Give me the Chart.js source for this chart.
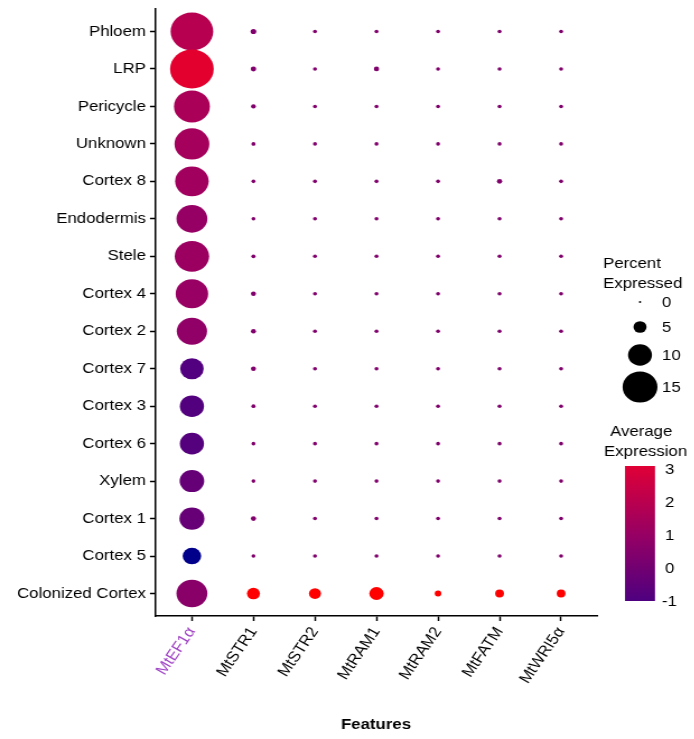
<!DOCTYPE html>
<html>
<head>
<meta charset="utf-8">
<script src="https://cdn.jsdelivr.net/npm/chart.js@4/dist/chart.umd.min.js"></script>
<style>
  html, body { margin: 0; padding: 0; background: #fff; overflow: hidden; }
  /* the source figure is stretched sideways, so draw narrow and widen */
  #wrap { width: 620px; height: 739px; transform: scaleX(1.12); transform-origin: 0 0; }
</style>
</head>
<body>
<div id="wrap"><canvas id="dotplot" width="620" height="739"></canvas></div>
<script>
const SX = 1.12;
const FONT = "'Liberation Sans', Arial, Helvetica, sans-serif";

const genes = ["MtEF1α", "MtSTR1", "MtSTR2", "MtRAM1", "MtRAM2", "MtFATM", "MtWRI5α"];
const cellTypes = ["Phloem", "LRP", "Pericycle", "Unknown", "Cortex 8", "Endodermis", "Stele", "Cortex 4",
  "Cortex 2", "Cortex 7", "Cortex 3", "Cortex 6", "Xylem", "Cortex 1", "Cortex 5", "Colonized Cortex"];

// percent of cells expressing, one value per cell type (top to bottom)
const pctEF1a = [18.6, 19.1, 15.5, 15.0, 14.4, 13.2, 14.8, 13.9, 12.9, 9.8, 10.1, 10.1, 10.3, 10.5, 7.5, 13.2];
const pctSTR1 = [1.6, 1.5, 1.2, 0.9, 0.8, 0.8, 0.9, 1.3, 1.3, 1.3, 0.9, 0.8, 0.8, 1.4, 0.8, 5.0];
const pctSTR2 = [0.8, 0.8, 0.8, 0.8, 0.8, 0.8, 0.8, 0.8, 0.8, 0.8, 0.8, 0.8, 0.8, 0.8, 0.8, 4.5];
const pctRAM1 = [0.8, 1.4, 0.8, 0.8, 0.8, 0.8, 0.8, 0.8, 0.8, 0.8, 0.8, 0.8, 0.8, 0.8, 0.8, 5.6];
const pctRAM2 = [0.8, 0.8, 0.8, 0.8, 0.8, 0.8, 0.8, 0.8, 0.8, 0.8, 0.8, 0.8, 0.8, 0.8, 0.8, 2.0];
const pctFATM = [0.8, 0.8, 0.8, 0.8, 1.4, 0.8, 0.8, 0.8, 0.8, 0.8, 0.8, 0.8, 0.8, 0.8, 0.8, 3.0];
const pctWRI5a = [0.8, 0.8, 0.8, 0.8, 0.8, 0.8, 0.8, 0.8, 0.8, 0.8, 0.8, 0.8, 0.8, 0.8, 0.8, 3.0];

// scaled average expression
const avgEF1a = [1.95, 3.2, 1.57, 1.43, 1.3, 1.0, 1.15, 1.05, 0.86, -0.9, -0.85, -0.8, -0.35, -0.3, -2.0, 0.65];
const avgSTR1 = [0.4, 0.4, 0.4, 0.4, 0.4, 0.4, 0.4, 0.4, 0.4, 0.4, 0.4, 0.4, 0.4, 0.4, 0.4, 4.0];
const avgSTR2 = [0.4, 0.4, 0.4, 0.4, 0.4, 0.4, 0.4, 0.4, 0.4, 0.4, 0.4, 0.4, 0.4, 0.4, 0.4, 4.0];
const avgRAM1 = [0.4, 0.4, 0.4, 0.4, 0.4, 0.4, 0.4, 0.4, 0.4, 0.4, 0.4, 0.4, 0.4, 0.4, 0.4, 4.0];
const avgRAM2 = [0.4, 0.4, 0.4, 0.4, 0.4, 0.4, 0.4, 0.4, 0.4, 0.4, 0.4, 0.4, 0.4, 0.4, 0.4, 4.0];
const avgFATM = [0.4, 0.4, 0.4, 0.4, 0.4, 0.4, 0.4, 0.4, 0.4, 0.4, 0.4, 0.4, 0.4, 0.4, 0.4, 4.0];
const avgWRI5a = [0.4, 0.4, 0.4, 0.4, 0.4, 0.4, 0.4, 0.4, 0.4, 0.4, 0.4, 0.4, 0.4, 0.4, 0.4, 4.0];

const sizeLegend = [0, 5, 10, 15];
const colourTicks = [3, 2, 1, 0, -1];

const pctByGene = [pctEF1a, pctSTR1, pctSTR2, pctRAM1, pctRAM2, pctFATM, pctWRI5a];
const avgByGene = [avgEF1a, avgSTR1, avgSTR2, avgRAM1, avgRAM2, avgFATM, avgWRI5a];

const colourStops = [
  [-2, [0, 0, 139]],
  [-1, [78, 0, 128]],
  [1, [150, 0, 100]],
  [3, [220, 0, 58]],
  [4, [255, 0, 0]],
];

function colourFor(v) {
  if (v <= colourStops[0][0]) return `rgb(${colourStops[0][1].join(",")})`;
  for (let i = 1; i < colourStops.length; i++) {
    const [v1, c1] = colourStops[i];
    if (v <= v1) {
      const [v0, c0] = colourStops[i - 1];
      const t = (v - v0) / (v1 - v0);
      const c = c0.map((a, k) => Math.round(a + (c1[k] - a) * t));
      return `rgb(${c.join(",")})`;
    }
  }
  return `rgb(${colourStops[colourStops.length - 1][1].join(",")})`;
}

const radiusFor = (pct) => 1 + 0.97 * pct;

const points = [];
genes.forEach((g, gi) => {
  cellTypes.forEach((c, ci) => {
    points.push({ x: gi, y: ci, pct: pctByGene[gi][ci], avg: avgByGene[gi][ci] });
  });
});

// legends and x title, drawn after the chart
const sideLegends = {
  id: "sideLegends",
  afterDraw(chart) {
    const ctx = chart.ctx;
    const X = (px) => px / SX;
    ctx.save();
    ctx.fillStyle = "#000";
    ctx.textBaseline = "middle";

    ctx.font = `bold 15px ${FONT}`;
    ctx.textAlign = "center";
    ctx.fillText("Features", X(376), 725);

    ctx.font = `15px ${FONT}`;
    ctx.textAlign = "left";
    ctx.fillText("Percent", X(603), 264);
    ctx.fillText("Expressed", X(603), 284);
    const sizeY = [302, 327, 355, 387];
    sizeLegend.forEach((p, i) => {
      ctx.beginPath();
      ctx.arc(X(640), sizeY[i], radiusFor(p), 0, Math.PI * 2);
      ctx.fill();
      ctx.fillText(String(p), X(662), sizeY[i] + 1);
    });

    ctx.fillText("Average", X(610), 432);
    ctx.fillText("Expression", X(604), 452);

    const barTop = 466, barBottom = 601, v3 = 469.5, perUnit = 33;
    const valAt = (y) => 3 - (y - v3) / perUnit;
    const grad = ctx.createLinearGradient(0, barTop, 0, barBottom);
    for (let k = 0; k <= 20; k++) {
      const y = barTop + (barBottom - barTop) * k / 20;
      grad.addColorStop(k / 20, colourFor(valAt(y)));
    }
    ctx.fillStyle = grad;
    ctx.fillRect(X(625), barTop, X(655) - X(625), barBottom - barTop);
    ctx.fillStyle = "#000";
    colourTicks.forEach((v) => {
      ctx.fillText(String(v), X(v < 0 ? 662 : 665), v3 + (3 - v) * perUnit);
    });
    ctx.restore();
  },
};

const axisLine = { display: true, color: "#000", width: 1.5 };

new Chart(document.getElementById("dotplot"), {
  type: "bubble",
  data: {
    datasets: [
      {
        data: points,
        backgroundColor: (c) => colourFor(c.raw.avg),
        radius: (c) => radiusFor(c.raw.pct),
        borderWidth: 0,
        hoverRadius: 0,
        hoverBorderWidth: 0,
      },
    ],
  },
  options: {
    responsive: false,
    animation: false,
    layout: { autoPadding: false, padding: { top: 9, right: 620 - 598 / SX, left: 0, bottom: 0 } },
    plugins: { legend: { display: false }, tooltip: { enabled: false } },
    scales: {
      x: {
        type: "linear",
        min: -0.6,
        max: genes.length - 0.4,
        afterBuildTicks: (s) => { s.ticks = genes.map((g, i) => ({ value: i })); },
        afterFit: (s) => { s.height = 123; s.paddingLeft = 0; s.paddingRight = 0; },
        border: axisLine,
        grid: { drawOnChartArea: false, drawTicks: true, tickLength: 5, tickColor: "#000", tickWidth: 1.5 },
        ticks: {
          autoSkip: false,
          minRotation: 58,
          maxRotation: 58,
          padding: 3,
          font: { family: FONT, size: 15 },
          color: (c) => (c.index === 0 ? "#9f43c4" : "#000"),
          callback: (v) => genes[v],
        },
      },
      y: {
        type: "linear",
        reverse: true,
        min: -0.6,
        max: cellTypes.length - 0.4,
        afterBuildTicks: (s) => { s.ticks = cellTypes.map((c, i) => ({ value: i })); },
        afterFit: (s) => { s.width = 155 / SX; s.paddingTop = 0; s.paddingBottom = 0; },
        border: axisLine,
        grid: { drawOnChartArea: false, drawTicks: true, tickLength: 4.5, tickColor: "#000", tickWidth: 1.5 },
        ticks: {
          padding: 3.6,
          font: { family: FONT, size: 15 },
          color: "#000",
          callback: (v) => cellTypes[v],
        },
      },
    },
  },
  plugins: [sideLegends],
});
</script>
</body>
</html>
